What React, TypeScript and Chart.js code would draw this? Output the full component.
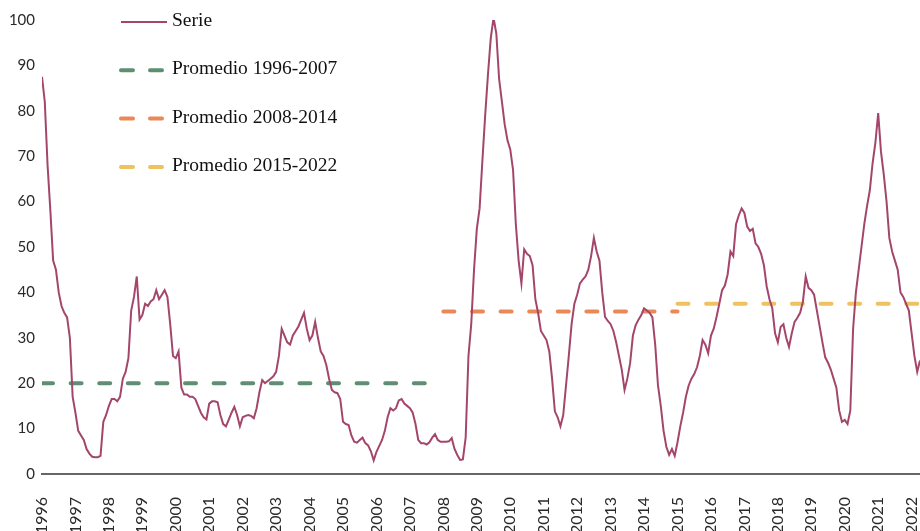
import { useEffect, useRef } from "react";
import { Chart, registerables } from "chart.js";

Chart.register(...registerables);

const startYear = 1996;
const monthsPerYear = 12;

// Monthly values, Jan 1996 .. Apr 2022
const serieValues: number[] = [
  // 1996
  87.5, 82, 68, 58, 47, 45, 40, 37, 35.5, 34.5, 30, 17,
  // 1997
  13.5, 9.5, 8.5, 7.5, 5.5, 4.5, 3.8, 3.7, 3.7, 4, 11.5, 13,
  // 1998
  15, 16.5, 16.5, 16, 17, 21, 22.5, 25.5, 36, 39, 43.5, 34,
  // 1999
  35, 37.5, 37, 38, 38.5, 40.5, 38.5, 39.5, 40.5, 39, 33, 26,
  // 2000
  25.5, 27, 19, 17.5, 17.5, 17, 17, 16.5, 15, 13.5, 12.5, 12,
  // 2001
  15.5, 16, 16, 15.8, 13, 11, 10.5, 12, 13.5, 14.8, 13, 10.5,
  // 2002
  12.5, 12.8, 13, 12.8, 12.3, 14.5, 18, 20.7, 20, 20.5, 21, 21.5,
  // 2003
  22.5, 26, 32, 30.5, 29, 28.5, 30.5, 31.5, 32.5, 34, 35.5, 32,
  // 2004
  29.5, 30.5, 33.5, 30, 27, 26, 24, 21, 18.5, 18, 17.8, 16.5,
  // 2005
  11.5, 11, 10.8, 8.5, 7.1, 6.9, 7.5, 8, 6.8, 6.3, 5, 3,
  // 2006
  4.9, 6.2, 7.5, 9.5, 12.5, 14.5, 14, 14.5, 16.2, 16.5, 15.5, 15,
  // 2007
  14.5, 13.5, 11, 7.5, 6.8, 6.8, 6.5, 7, 8, 8.8, 7.5, 7.1,
  // 2008
  7.1, 7.1, 7.2, 7.9, 5.5, 4.2, 3.1, 3.2, 8, 26, 33, 45,
  // 2009
  54, 58.5, 69, 79, 88, 96, 100.5, 97, 87, 82, 77, 73.5,
  // 2010
  71.5, 67, 55, 47, 42, 49.5, 48.5, 48, 46, 38.5, 35.4, 31.5,
  // 2011
  30.5, 29.5, 27, 21, 13.8, 12.5, 10.5, 13, 19.5, 26, 33, 37.5,
  // 2012
  39.5, 42, 42.8, 43.5, 45, 48, 52, 49, 47, 40, 34.6, 33.7,
  // 2013
  33, 31.5, 29, 26, 23, 18.5, 21, 24.4, 30.5, 32.8, 34, 35,
  // 2014
  36.5, 36, 35.5, 34.5, 28.5, 19.5, 15, 9.5, 6, 4.2, 5.5, 4,
  // 2015
  7, 10.5, 13.5, 17, 19.5, 21, 22, 23.5, 26, 29.5, 28.5, 26.6,
  // 2016
  30.5, 32, 34.6, 37.5, 40.5, 41.5, 44, 49, 48, 55, 57, 58.5,
  // 2017
  57.5, 54.5, 53.5, 54, 50.8, 50, 48.5, 46, 41.3, 38.5, 36.5, 31,
  // 2018
  29, 32.4, 33, 30, 28, 31, 33.5, 34.4, 35.5, 38, 43.5, 41,
  // 2019
  40.5, 39.5, 36, 32.5, 29, 25.7, 24.5, 23, 21, 19, 14, 11.5,
  // 2020
  11.9, 11, 14, 32, 40, 45, 50, 55, 59, 62.5, 68.5, 73,
  // 2021
  79.5, 71, 66, 60, 52, 49, 47, 45, 40, 39, 37.5, 36,
  // 2022
  31, 26, 22.5, 25,
];

const yearTicks: number[] = [
  1996, 1997, 1998, 1999, 2000, 2001, 2002, 2003, 2004, 2005, 2006, 2007, 2008,
  2009, 2010, 2011, 2012, 2013, 2014, 2015, 2016, 2017, 2018, 2019, 2020, 2021, 2022,
];

const serieLabel = "Serie";
const avgLabels = ["Promedio 1996-2007", "Promedio 2008-2014", "Promedio 2015-2022"];
const avgValues = [20, 35.8, 37.5];
const avgStarts = [1996, 2008, 2015];
const avgEnds = [2007.6, 2015, 2022.25];

const serieColor = "#A4466B";
const avgColors = ["#5E8F72", "#EA8858", "#EEC25E"];

const xMin = 1996;
const xMax = 2022.25;

const legendPlugin = {
  id: "customLegend",
  afterDraw(chart: any) {
    const ctx = chart.ctx as CanvasRenderingContext2D;
    ctx.save();
    const rowTop = 21;
    const rowGap = 48.3;
    const sampleLeft = 121;
    const textLeft = 172;
    ctx.font = "19.5px 'Liberation Serif', serif";
    ctx.fillStyle = "#111";
    ctx.textBaseline = "middle";
    ctx.strokeStyle = serieColor;
    ctx.lineWidth = 2;
    ctx.setLineDash([]);
    ctx.beginPath();
    ctx.moveTo(sampleLeft, rowTop + 1);
    ctx.lineTo(sampleLeft + 46, rowTop + 1);
    ctx.stroke();
    ctx.fillText(serieLabel, textLeft, rowTop);
    avgLabels.forEach((lab, i) => {
      const y = rowTop + rowGap * (i + 1);
      ctx.strokeStyle = avgColors[i];
      ctx.lineWidth = 4;
      ctx.lineCap = "round";
      ctx.beginPath();
      ctx.moveTo(sampleLeft, y + 1);
      ctx.lineTo(sampleLeft + 12, y + 1);
      ctx.moveTo(sampleLeft + 29, y + 1);
      ctx.lineTo(sampleLeft + 41, y + 1);
      ctx.stroke();
      ctx.fillText(lab, textLeft, y);
    });
    ctx.restore();
  },
};

export default function App() {
  const ref = useRef<HTMLCanvasElement | null>(null);
  useEffect(() => {
    document.body.style.margin = "0";
    if (!ref.current) return;
    const datasets: any[] = [
      {
        label: serieLabel,
        data: serieValues.map((v, i) => ({ x: startYear + i / monthsPerYear, y: v })),
        borderColor: serieColor,
        borderWidth: 2,
        pointRadius: 0,
        tension: 0,
        fill: false,
      },
      ...avgLabels.map((lab, i) => ({
        label: lab,
        data: [
          { x: avgStarts[i], y: avgValues[i] },
          { x: avgEnds[i], y: avgValues[i] },
        ],
        borderColor: avgColors[i],
        borderWidth: 4,
        borderDash: [11, 17.6],
        borderCapStyle: "round",
        pointRadius: 0,
        fill: false,
      })),
    ];
    const chart = new Chart(ref.current, {
      type: "line",
      data: { datasets },
      options: {
        animation: false,
        responsive: false,
        maintainAspectRatio: false,
        layout: { padding: { top: 20, right: 0, bottom: 0, left: 0 } },
        plugins: { legend: { display: false }, tooltip: { enabled: false } },
        scales: {
          x: {
            type: "linear",
            min: xMin,
            max: xMax,
            grid: { display: false, drawTicks: false },
            border: { display: true, color: "#666", width: 2 },
            ticks: {
              autoSkip: false,
              minRotation: 90,
              maxRotation: 90,
              padding: 23,
              color: "#2a2a2a",
              font: { family: "Lato", size: 16 },
              callback: (v: any) => String(v),
            },
            afterBuildTicks: (s: any) => {
              s.ticks = yearTicks.map((v) => ({ value: v }));
            },
            afterFit: (s: any) => {
              s.height = 57;
              s.paddingLeft = 0;
              s.paddingRight = 0;
            },
          },
          y: {
            min: 0,
            max: 100,
            grid: { display: false, drawTicks: false },
            border: { display: false },
            ticks: {
              stepSize: 10,
              padding: 7,
              color: "#2a2a2a",
              font: { family: "Lato", size: 15 },
            },
            afterFit: (s: any) => {
              s.width = 42;
            },
          },
        },
      } as any,
      plugins: [legendPlugin],
    });
    return () => chart.destroy();
  }, []);
  return (
    <div style={{ width: 920, height: 531 }}>
      <canvas ref={ref} width={920} height={531} style={{ display: "block" }} />
    </div>
  );
}
